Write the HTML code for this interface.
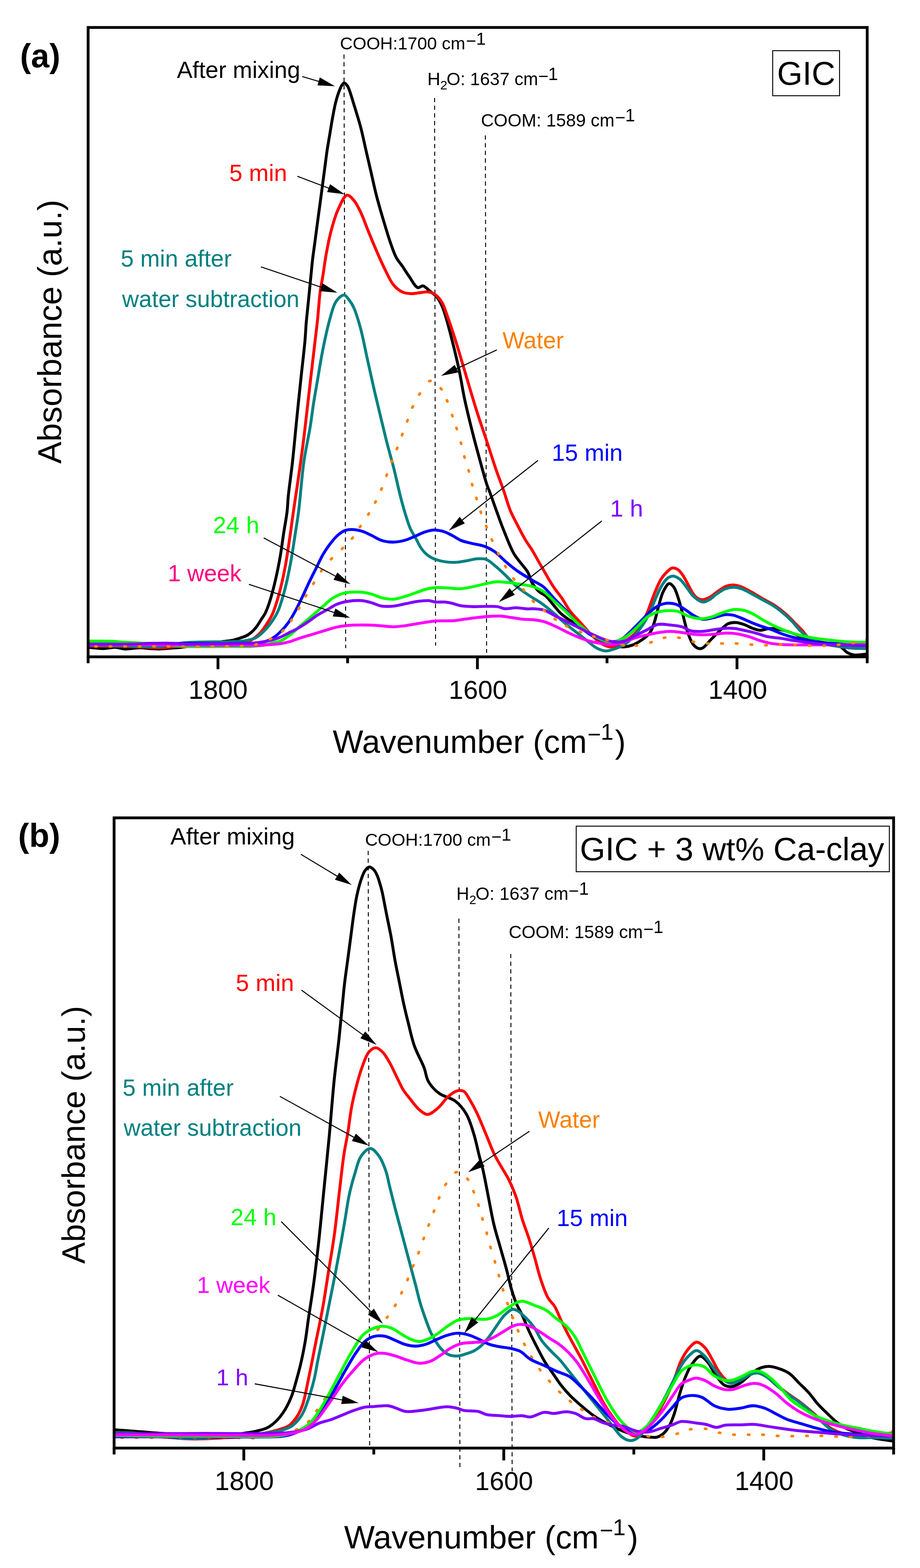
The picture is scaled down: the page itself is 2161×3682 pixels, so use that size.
<!DOCTYPE html>
<html><head><meta charset="utf-8"><title>FTIR spectra</title>
<style>html,body{margin:0;padding:0;background:#fff;}svg{display:block;}</style>
</head><body>
<svg width="2161" height="3682" viewBox="0 0 2161 3682" font-family="Liberation Sans, Arial, Helvetica, sans-serif">
<rect width="2161" height="3682" fill="#fff"/>
<line x1="808" y1="128" x2="812" y2="1522" stroke="#000" stroke-width="2.2" stroke-dasharray="10 8"/>
<line x1="1020.8" y1="230" x2="1023.1" y2="1516" stroke="#000" stroke-width="2.2" stroke-dasharray="10 8"/>
<line x1="1140" y1="318" x2="1143" y2="1533" stroke="#000" stroke-width="2.2" stroke-dasharray="10 8"/>
<clipPath id="ca"><rect x="207" y="64.5" width="1830" height="1477.9"/></clipPath>
<g clip-path="url(#ca)" fill="none" stroke-linejoin="round" stroke-linecap="round">
<path d="M200,1520C202.3,1520 203.8,1519.9 207,1520C214.3,1520.3 231.8,1523.1 243,1523C252.9,1522.9 262.3,1519.7 271,1520C278.8,1520.3 284.7,1523.6 293,1524C303.7,1524.5 319.4,1520.9 330,1521C338,1521.1 343.9,1522.5 351,1523C358.2,1523.5 365.1,1524.1 373,1524C382.2,1523.9 393.7,1522.5 403,1521.8C411.2,1521.2 416.7,1521 426,1520C440.2,1518.4 463.3,1514.3 480,1512C494.3,1510 508,1508.6 520,1507C529.9,1505.7 539,1505 547,1503.3C553.7,1501.9 559.1,1500.1 565,1498C570.8,1496 576.5,1494.4 582,1491C588.3,1487.1 594.7,1481.1 600,1475C605.4,1468.8 609.9,1460.3 614,1454C617.4,1448.9 620.1,1445.7 623,1440C626.9,1432.2 630.5,1422 634,1411C638.5,1396.9 643.1,1378.8 647,1362C651.1,1344.5 654.8,1326 658,1308C661.2,1290 663.3,1272 666,1254C668.8,1236 672.7,1215.9 674.5,1200C675.9,1187.5 675.7,1180.1 677,1166.5C679.1,1145.3 683.8,1113.6 687,1085C690.5,1053.2 693.6,1017.7 697,984C700.4,950.2 704.1,914.7 707.5,882.6C710.6,853.5 714.4,822.6 716.4,799.6C717.8,783.3 718.2,771.3 719.3,757.8C720.4,745.1 721.8,733.3 723,721C724.2,708.7 725.5,696.4 726.7,684.1C727.9,671.8 729.2,659.5 730.4,647.2C731.6,634.9 732.7,622.6 734.1,610.3C735.5,598 737.4,585.7 739,573.4C740.6,561.1 742.3,548.8 743.9,536.5C745.5,524.2 747.2,512 748.8,499.7C750.5,487.4 752.1,475.1 753.8,462.8C755.4,450.5 757.1,438.2 758.7,425.9C760.3,413.6 762,401.3 763.6,389C765.2,376.7 766.7,364.4 768.5,352.1C770.4,339.8 772.6,327.5 774.7,315.2C776.7,302.9 778.6,290.7 780.8,278.4C783.1,266.1 785.4,252.5 788.2,241.5C790.5,232.4 793,224 795.6,216.9C797.7,211.2 799.6,205.9 802,202C803.8,199 805.9,195.1 807.9,194.8C809.5,194.5 811.5,196.5 813,198C814.8,199.7 816,201.2 817.7,204.6C821.9,212.9 828.1,235.3 833,251C838,267.1 843.1,283.3 847.5,300C852,317.2 855.6,335.2 859.6,352.8C863.7,370.4 867.7,388 871.8,405.6C875.9,423.2 879.4,440.5 884,458.3C888.8,476.9 894.5,496.5 900,515C905.3,532.9 910.9,551.9 916.4,567.8C921.1,581.2 925.2,594.3 930.6,604.4C934.9,612.4 940,617.5 944.8,624.6C950.1,632.3 955.1,640.8 961,649C967.2,657.7 974.7,673.4 981.3,675.4C985.4,676.7 989.3,670.6 993.5,671.3C998.7,672.1 1004.4,679.2 1009.7,683.5C1015.2,688 1021.4,692.1 1026,697.7C1030.9,703.5 1034.7,710.9 1038,718C1041.4,725.2 1043.1,731.2 1046,740.6C1050.8,755.9 1057.2,780.4 1062.5,801.4C1068.1,823.6 1073.9,847.7 1078.7,870.4C1083.3,892.3 1086.3,913.4 1090.9,935.3C1095.7,957.9 1101.5,981.8 1107,1004C1112.2,1025 1117.2,1043.8 1123,1065C1129.3,1088.3 1138.4,1122.4 1143.6,1138C1146.1,1145.5 1147.4,1147.6 1150,1154.4C1154.2,1165.6 1160.6,1184.1 1166,1199C1171.4,1213.9 1176.2,1228 1182.5,1243.6C1189.6,1261.4 1198.9,1285.9 1207,1300C1212.4,1309.3 1217.6,1314.5 1223,1321.7C1228.4,1328.9 1235,1335.5 1239.5,1343.3C1244,1351.2 1245.5,1361.3 1250,1369C1254.4,1376.4 1260.2,1383.7 1266,1389C1271.1,1393.7 1277.3,1395.4 1282.5,1400C1288.3,1405.2 1293.1,1412.5 1298.7,1419C1304.7,1426 1310.8,1434.3 1317.6,1440.7C1324.2,1446.9 1331.5,1451.7 1339,1457C1346.8,1462.5 1355.7,1467.9 1363.6,1473C1371,1477.8 1377.8,1482.2 1385,1486.7C1392.3,1491.2 1399.6,1495.9 1407,1500C1414.1,1504 1421.2,1508 1428.5,1511C1435.5,1513.9 1443.3,1516.5 1450,1517.8C1455.7,1518.9 1460.5,1519.4 1466,1519C1472.1,1518.6 1478.6,1517.4 1485,1515C1492.3,1512.3 1500.2,1507.7 1507,1503C1513.8,1498.3 1521.1,1493.4 1526,1486.7C1531.1,1479.8 1533.4,1471.4 1536.7,1462C1540.8,1450.4 1543.8,1434.5 1547.5,1421.8C1550.9,1410.3 1553.3,1398.1 1558,1389C1561.8,1381.6 1567.1,1371.1 1571.8,1370.4C1575.4,1369.9 1579.5,1374.4 1582.6,1378.5C1587.2,1384.5 1590.2,1395.6 1593.5,1405.5C1597.4,1417 1600.5,1430.5 1604,1443.4C1607.6,1456.7 1610.5,1471.7 1615,1484C1618.9,1494.8 1623,1507 1628.6,1513.7C1632.5,1518.4 1637.9,1522.1 1642,1523C1644.9,1523.7 1647,1523.3 1650,1521.8C1655.9,1518.8 1664.6,1507.2 1671.6,1500.2C1678.1,1493.7 1684.2,1487.3 1690.6,1481.3C1696.8,1475.5 1702.7,1468.2 1709.5,1465C1715.4,1462.2 1722.1,1461.6 1728.4,1461.8C1734.7,1462 1741,1464.2 1747.4,1466.4C1754.5,1468.8 1762.2,1473.6 1769,1475.9C1774.6,1477.9 1779.2,1479.8 1785,1480C1791.7,1480.2 1799.3,1476.3 1807,1476C1815.5,1475.6 1825.1,1476.9 1834,1478.6C1843.1,1480.4 1852.1,1483.6 1861,1486.7C1870.1,1489.9 1878.9,1494.3 1888,1497.5C1896.9,1500.6 1905.5,1503.4 1915,1505.6C1925.3,1508 1937.2,1508.6 1947.5,1511C1957,1513.2 1967,1515 1974.5,1519C1981,1522.5 1985,1529.5 1990.8,1532.7C1995.9,1535.6 2001.1,1537.2 2007,1538C2013.6,1538.9 2021.9,1537.2 2028.6,1536.7C2034.4,1536.2 2039.5,1535.6 2045,1535" stroke="#000000" stroke-width="6.8"/>
<path d="M200,1517C202.3,1517 203.3,1517 207,1517C220.3,1517.1 270.2,1517.3 300,1518C327.7,1518.7 361.4,1521.5 380,1521C390,1520.8 394,1519.8 403,1519C415.9,1517.9 432.8,1516.3 450,1515C471,1513.4 497.4,1511.4 520,1510C541.3,1508.7 566.2,1512.1 582,1506.8C593.3,1503 601.1,1496 608.5,1489C615.6,1482.3 620.8,1473.8 626,1466C631,1458.6 635.1,1452.6 639.3,1443.4C645.2,1430.5 650.7,1411.9 655.5,1394.7C660.7,1376 665.1,1355.7 669.1,1335.2C673.3,1313.5 676.5,1290.1 679.9,1267.6C683.3,1245.1 686.3,1221.2 689.4,1200C692.1,1181 694.4,1167 697.4,1146.2C701.5,1117.7 707.1,1080.2 711.6,1044.8C716.6,1006.1 721.1,963.7 725.8,923.1C730.5,882.5 736.3,833.4 740,801.4C742.4,780.6 744.1,768.1 746,750C748.1,729.7 749.6,703.9 752,685.5C753.8,671.6 756.1,662.3 758.2,649C760.8,633 763,614.1 766.3,596.2C769.7,577.6 773.6,557.5 778.5,539.4C783.1,522.4 788,505 794.7,490.8C800.5,478.5 807.9,459.6 815,458.3C820.2,457.3 826.3,464.9 831.2,470.5C837.4,477.6 842.4,488.4 847.5,498.9C853.4,511 857.9,525.3 863.7,539.4C870,554.9 877.1,572.3 884,588.1C890.6,603.4 897.3,618.8 904.3,632.8C910.8,645.7 916.7,660.1 924.5,669.3C930.6,676.6 937.6,682.2 944.8,685.5C951.2,688.5 958.2,689.2 965,689.5C971.8,689.8 978.6,688.2 985.4,687.5C992.2,686.8 999.4,684.7 1005.7,685.5C1011.5,686.3 1016.9,688.2 1021.9,691.6C1027.8,695.7 1033.5,702.5 1038,709.8C1043.3,718.4 1045.9,728.5 1050.3,740.6C1056.4,757.4 1063.7,779.6 1070.6,801.4C1078.5,826.5 1086.8,855.5 1094.9,882.6C1103,909.6 1111,937.4 1119.3,963.7C1127.2,988.7 1135.7,1012.7 1143.6,1036.7C1151.3,1060 1159.1,1085.3 1166.2,1105.7C1171.9,1122.2 1177.2,1135.1 1182.5,1150.3C1188,1166.1 1193,1185.2 1198.7,1199C1203.1,1209.8 1207.2,1216.8 1212.4,1227C1218.7,1239.3 1227.1,1255.9 1234,1267.6C1239.5,1276.9 1244.4,1282.9 1250,1292C1256.8,1303.1 1263.9,1316.6 1271.6,1329.8C1280.1,1344.4 1289.9,1362.3 1298.7,1375.8C1306,1387 1313.5,1395.5 1320.3,1405.5C1327,1415.3 1332.1,1425.9 1339.2,1435.3C1346.5,1444.8 1355.3,1453.1 1363.6,1462.3C1372.4,1472 1381.8,1483.5 1390.6,1492.1C1398,1499.4 1404.6,1506.4 1412.3,1511C1419.2,1515.1 1426.7,1519.1 1433.9,1519.1C1441.1,1519.1 1448.2,1514.4 1455.5,1511C1463.5,1507.3 1472.4,1503.2 1479.9,1497.5C1487.8,1491.6 1495.1,1484.7 1501.5,1475.9C1509,1465.5 1514.7,1451.2 1520.5,1438C1526.5,1424.2 1531,1408.3 1536.7,1394.7C1541.9,1382.3 1547.1,1368.8 1552.9,1359.6C1557.2,1352.8 1561.8,1347.8 1566.4,1343.3C1570.4,1339.5 1574.3,1334.9 1578.6,1333.9C1582.5,1333 1587.1,1334.6 1590.8,1336.6C1594.9,1338.8 1598.1,1342.9 1601.6,1347.4C1606.2,1353.4 1610.6,1362.6 1615.1,1370.4C1619.6,1378.4 1623.9,1388.5 1628.6,1394.7C1632.1,1399.3 1635.6,1403.3 1639.5,1405.5C1642.8,1407.4 1646.1,1408.3 1650,1408.2C1654.8,1408 1660.8,1405.5 1666.2,1402.8C1672.5,1399.6 1678.8,1393.6 1685.2,1389.3C1691.5,1385.1 1697.8,1379.7 1704.1,1377.1C1709.5,1374.9 1714.7,1373.7 1720.3,1373.6C1726.3,1373.5 1732.7,1374.9 1739.2,1377.1C1747,1379.7 1755.3,1384.8 1763.6,1389.3C1772.5,1394.2 1781.5,1400.3 1790.6,1405.5C1799.6,1410.7 1808.9,1414.7 1817.7,1420.4C1826.9,1426.4 1836.4,1433.5 1844.7,1440.7C1852.6,1447.5 1859.4,1455.3 1866.4,1462.3C1872.9,1468.8 1880,1475.4 1885.3,1481.3C1889.5,1486.1 1891.5,1490.9 1896,1494.8C1901.1,1499.2 1908.3,1502.7 1915,1505.6C1921.8,1508.6 1928.7,1510.5 1936.7,1512.4C1946.3,1514.7 1958.2,1516.2 1969,1517.8C1979.8,1519.4 1989.9,1520.9 2001.6,1521.8C2015,1522.8 2030.5,1522.7 2045,1523.2" stroke="#ff0000" stroke-width="6.8"/>
<path d="M200,1515C202.3,1515 203.3,1515 207,1515C220.3,1515.1 270.9,1516.5 300,1517C325.8,1517.5 349.9,1519.5 373,1518C394,1516.6 415.6,1511.1 433,1509.4C446.2,1508.1 454.3,1508.1 468,1507.7C487.3,1507.1 518.7,1507.4 538,1506.8C551.7,1506.4 562.2,1506.7 573,1505C582.7,1503.5 592.3,1501.7 600,1498C606.7,1494.7 611.6,1490 617,1485C622.9,1479.5 628.5,1473.4 634,1466C640.5,1457.2 647.4,1447.2 652.8,1435.3C659.5,1420.7 664.3,1402 669.1,1383.9C674.3,1364.3 678.6,1342.9 682.6,1321.7C686.7,1299.7 690.1,1275.4 693.4,1254.1C696.3,1235.1 698.8,1221.4 701.5,1200C705.5,1168.9 708.6,1120.7 713.6,1085.4C718,1054.8 725,1024.9 729,1000C732.1,980.6 733.6,965.9 736.3,948.3C739.2,929.8 742.8,910.4 746,891.5C749.2,872.6 752.5,852 755.7,834.7C758.4,820 760.9,807.7 763.9,794.2C766.9,780.6 769.8,767.1 773.6,753.6C777.4,740 781.4,722.9 786.6,713C790,706.4 793.8,701.5 798,698C801.3,695.3 805.2,692.2 808.5,692.7C812.2,693.3 815.7,698.9 819,703C823,708 826.7,713.3 830.4,721.1C836.1,733.1 841.6,751.8 846.6,769.8C852.6,791.5 857.4,818.5 862.8,842.8C868.2,867.2 873.6,892 879.1,915.9C884.4,939 890,962.2 895.3,984C900.2,1004.1 904.6,1022.9 909.5,1042C914.3,1060.8 919.5,1078 924.5,1097.6C930,1119.3 936,1147.7 940.8,1166.5C944.2,1179.7 946.5,1188.3 950,1200C953.9,1212.9 958.5,1229 963.6,1240.6C967.7,1250 972.6,1256.8 977.1,1264.9C981.6,1273 985.3,1282.2 990.6,1289.2C995.4,1295.6 1001.1,1301.3 1006.9,1305.5C1012,1309.2 1017.2,1311.4 1023.1,1313.6C1029.7,1316 1037,1317.9 1044.7,1319C1053.2,1320.3 1062.8,1320.8 1071.8,1320.4C1080.8,1320 1090.3,1317.7 1098.8,1316.3C1106.4,1315 1113.2,1312.6 1120.4,1312.2C1127.6,1311.8 1135.4,1311.2 1142.1,1313.6C1149,1316.1 1154.3,1321.7 1161,1327.1C1169.4,1333.8 1179.2,1343 1188.1,1351.5C1197.2,1360.2 1205.1,1370.1 1215.1,1378.5C1225.6,1387.4 1239.7,1396.2 1250,1403C1258,1408.3 1264.2,1411.1 1271.6,1416.4C1280.3,1422.5 1289.8,1430.4 1298.7,1438C1307.8,1445.7 1316.6,1454.6 1325.7,1462.3C1334.6,1469.9 1344,1477 1352.8,1484C1361.1,1490.5 1369,1496.6 1377.1,1502.9C1385.2,1509.2 1393.2,1517.5 1401.5,1521.8C1408.6,1525.5 1415.9,1528.4 1423.1,1528.6C1430.3,1528.8 1437.6,1525.6 1444.7,1523.2C1452,1520.7 1459.5,1518.1 1466.4,1513.7C1474,1508.9 1481.1,1502 1488,1494.8C1495.6,1486.9 1503,1477.6 1509.6,1467.7C1516.7,1457 1523.1,1444.2 1528.6,1432.6C1533.8,1421.7 1537.4,1410.4 1542.1,1400.1C1546.4,1390.6 1550.6,1380.7 1555.6,1373.1C1559.8,1366.7 1564.2,1360.3 1569.1,1356.9C1572.9,1354.3 1577.1,1352.6 1581.3,1352.8C1586.1,1353 1591.5,1356.1 1596.2,1359.6C1602,1364 1607.1,1371.9 1612.4,1378.5C1617.9,1385.4 1622.2,1394.2 1628.6,1400.1C1634.8,1405.8 1643.2,1412.9 1650,1413.7C1655.6,1414.4 1660.8,1411.1 1666.2,1408.2C1672.6,1404.8 1678.7,1397.7 1685.2,1393.4C1691.4,1389.3 1697.6,1385 1704.1,1382.6C1710.2,1380.3 1716.7,1379 1723,1379C1729.3,1379 1735.4,1380.4 1742,1382.6C1749.8,1385.2 1758,1390.4 1766.3,1394.7C1775.1,1399.3 1784.5,1404.8 1793.3,1409.6C1801.6,1414.2 1810,1418.1 1817.7,1423.1C1825.3,1428 1832.2,1433.4 1839.3,1439.3C1846.7,1445.5 1854.2,1452.5 1861,1459.6C1867.7,1466.5 1873.6,1475.1 1879.9,1481.3C1885.3,1486.6 1890.3,1490.8 1896.1,1494.8C1902,1498.9 1908.3,1502.7 1915,1505.6C1921.8,1508.6 1928.7,1510.5 1936.7,1512.4C1946.4,1514.7 1958.3,1516.2 1969.1,1517.8C1979.9,1519.4 1990,1520.9 2001.6,1521.8C2015,1522.8 2030.5,1522.7 2045,1523.2" stroke="#008080" stroke-width="6.8"/>
<path d="M200,1511C202.3,1511 203,1511 207,1511C230.5,1511 384.8,1511 450,1511C493.8,1511 529.2,1511.7 560,1511C582.3,1510.5 602.8,1511.8 617.7,1508.3C627.8,1505.9 634.7,1502.1 642,1497.5C649.1,1493 655.1,1487.2 661,1481.3C666.9,1475.4 672.1,1469.4 677.2,1462.3C683,1454.3 688.2,1444.8 693.4,1435.3C699,1425.1 704.3,1413.9 709.6,1402.8C715.1,1391.4 720.4,1379.1 725.9,1367.7C731.2,1356.6 736.7,1346 742.1,1335.2C747.5,1324.4 752.6,1312.7 758.3,1302.8C763.4,1293.9 768.6,1286.1 774.5,1278.4C780.3,1270.8 787,1262.5 793.5,1256.8C798.8,1252.2 804.1,1248.2 809.7,1246C814.9,1243.9 820,1243.3 825.9,1243.3C833.1,1243.3 842.3,1245 850,1247.3C857.5,1249.5 864.2,1253.3 871.6,1256.8C879.5,1260.5 887.4,1266.3 896,1269C904.6,1271.7 914,1273 923,1273C932,1273 941.4,1271.3 950.1,1269C958.6,1266.8 966.6,1262.8 974.4,1259.5C981.8,1256.4 988.7,1252.5 996,1250C1003.1,1247.6 1010.4,1245 1017.7,1244.6C1024.9,1244.2 1032.2,1245.4 1039.3,1247.3C1046.7,1249.3 1053.9,1253.2 1061,1256.8C1068.3,1260.4 1075,1265.9 1082.6,1269C1090.3,1272.2 1098.4,1273.5 1106.9,1275.7C1116.3,1278.1 1127.5,1279.2 1136.7,1282.5C1145.4,1285.6 1153,1289.3 1161,1294.7C1170.2,1301 1179,1311.3 1188.1,1319C1197,1326.5 1205.3,1333.7 1215.1,1340.6C1225.8,1348.2 1239.1,1355.6 1250,1362.3C1259.6,1368.1 1268.5,1371.5 1277,1378.5C1286.6,1386.4 1295,1398.6 1304.1,1408.2C1313,1417.5 1322.3,1425.7 1331.1,1435.3C1340.4,1445.4 1348.7,1458.4 1358.2,1467.7C1366.8,1476.1 1375.9,1483.4 1385.2,1489.4C1393.9,1495 1403,1500 1412.3,1502.9C1421.1,1505.7 1430.9,1507.6 1439.3,1507C1447,1506.4 1454.2,1504 1461,1500.2C1468.7,1495.9 1475.3,1488.1 1482.6,1481.3C1490.6,1473.8 1499,1464.8 1506.9,1456.9C1514.3,1449.5 1521.4,1441.4 1528.6,1435.3C1534.9,1430 1540.7,1425 1547.5,1421.8C1554.2,1418.7 1562.1,1416.8 1569.1,1416.4C1575.6,1416.1 1582,1417 1588.1,1419.1C1594.6,1421.3 1600.6,1425.9 1607,1429.9C1614.1,1434.3 1621.2,1440.7 1628.6,1444.8C1635.6,1448.7 1642.3,1453.2 1650,1454.2C1658.3,1455.3 1668,1452 1677,1450.2C1686.1,1448.4 1695.8,1444.1 1704.1,1443.4C1710.9,1442.8 1716.6,1443.4 1723,1444.8C1730.1,1446.4 1737.5,1450 1744.7,1452.9C1751.9,1455.8 1759.1,1459.4 1766.3,1462.3C1773.5,1465.2 1780.5,1467.9 1787.9,1470.5C1795.8,1473.3 1804,1475.6 1812.3,1478.6C1821.1,1481.8 1830.2,1486.2 1839.3,1489.4C1848.3,1492.5 1857.3,1495.2 1866.4,1497.5C1875.4,1499.7 1884.4,1501.1 1893.4,1502.9C1902.4,1504.7 1910.5,1507 1920.5,1508.3C1932.6,1509.9 1945.1,1510.2 1961,1511C1983.9,1512.1 2017,1512.8 2045,1513.7" stroke="#0000ff" stroke-width="6.8"/>
<path d="M200,1505.5C202.3,1505.5 203.5,1505.5 207,1505.5C217.2,1505.5 251.5,1505.3 267,1506C276.8,1506.4 280.9,1507.3 291,1508C308.4,1509.2 338.3,1510.3 362,1512C385.7,1513.7 407,1516.9 433,1518C464.6,1519.3 508.9,1518 538,1518C558.7,1518 575.2,1519 591,1518C603.8,1517.2 616.8,1515.6 625.8,1513.7C631.6,1512.5 634.9,1510.7 640,1509.4C645.7,1508 652.1,1508.1 658.2,1505.6C665.4,1502.7 672.9,1497.3 679.9,1492.1C687.3,1486.6 694.5,1479.3 701.5,1473.2C708,1467.5 714,1462.6 720.5,1456.9C727.5,1450.8 735.1,1444 742.1,1438C748.6,1432.4 754.7,1427.2 761,1421.8C767.3,1416.4 773.2,1410 780,1405.5C786.7,1401 794.2,1397.2 801.6,1394.7C808.6,1392.3 815.6,1391.4 823.2,1390.7C831.6,1389.9 841.6,1389.9 850,1390.7C857.6,1391.4 864.1,1392.7 871.6,1394.7C880.2,1397 889.6,1402.2 898.7,1404.2C907.6,1406.2 916.7,1407.6 925.7,1406.9C934.8,1406.2 943.8,1402.8 952.8,1400.1C961.9,1397.4 971.3,1393.6 979.8,1390.7C987.4,1388.1 994.2,1385.2 1001.5,1383.4C1008.6,1381.6 1015.3,1380.3 1023.1,1379.8C1032.2,1379.2 1043.1,1380.2 1052.8,1380.7C1062,1381.2 1070.9,1383 1079.9,1382.6C1088.9,1382.2 1097.7,1380.2 1106.9,1378.5C1116.6,1376.7 1127,1373.8 1136.7,1371.7C1145.9,1369.7 1154.7,1367 1163.7,1366.3C1172.7,1365.6 1181.6,1366.8 1190.8,1367.7C1200.5,1368.6 1210.6,1370.1 1220.5,1371.7C1230.4,1373.3 1240.6,1374.2 1250,1377.1C1259.4,1380 1268.4,1383.7 1277,1389.3C1286.5,1395.5 1295.1,1405.6 1304.1,1413.7C1313.1,1421.8 1322.2,1429.6 1331.1,1438C1340.2,1446.7 1348.9,1456.7 1358.2,1465C1367,1472.9 1375.9,1480.5 1385.2,1486.7C1394,1492.6 1403,1498 1412.3,1501.6C1421.1,1505 1430.4,1508.9 1439.3,1508.3C1448.4,1507.7 1457.7,1502.5 1466.4,1497.5C1475.8,1492 1484.6,1483.8 1493.4,1475.9C1502.7,1467.6 1511.4,1455.3 1520.5,1448.8C1527.7,1443.6 1534.3,1440.5 1542.1,1438C1550.4,1435.4 1560.6,1434.3 1569.1,1433.9C1576.7,1433.6 1583.5,1433.5 1590.8,1435.3C1598.8,1437.3 1607.4,1443.3 1615.1,1446.1C1621.7,1448.5 1627.9,1450.4 1634,1451.5C1639.5,1452.5 1644.3,1453.2 1650,1452.9C1656.7,1452.6 1664.1,1451 1671.6,1448.8C1680.2,1446.3 1689.6,1441 1698.7,1438C1707.6,1435.1 1716.9,1431.8 1725.7,1431.2C1734,1430.6 1742.4,1431.8 1750.1,1433.9C1757.7,1435.9 1764.2,1439.5 1771.7,1443.4C1780.3,1447.9 1789.6,1454.6 1798.7,1459.6C1807.6,1464.5 1816.7,1469.1 1825.8,1473.2C1834.7,1477.2 1843.7,1480.8 1852.8,1484C1861.8,1487.1 1870.8,1489.8 1879.9,1492.1C1888.9,1494.3 1897,1495.8 1906.9,1497.5C1919,1499.5 1934,1501.3 1947.5,1502.9C1961,1504.5 1973.4,1506.1 1988.1,1507C2005.5,1508.1 2026,1507.9 2045,1508.3" stroke="#00ff00" stroke-width="6.8"/>
<path d="M200,1514C202.3,1514 203.3,1514 207,1514C220.3,1514 270.2,1513.9 300,1514C327.7,1514.1 350.5,1514.3 380,1514.5C416.6,1514.8 470.5,1515.3 503,1515.5C524.3,1515.6 538.2,1515.6 555.8,1515.6C573.4,1515.6 593.2,1516.2 608.5,1515.6C620.4,1515.1 631.8,1513.5 640,1513C645.2,1512.7 647.8,1513 652.8,1512.4C660.2,1511.5 671,1509.4 679.9,1507C689,1504.5 697.9,1500.4 706.9,1497.5C715.9,1494.6 725,1492.1 734,1489.4C743,1486.7 752,1484 761,1481.3C770,1478.6 779.3,1475.3 788.1,1473.2C796.4,1471.3 803.4,1470 812.4,1469.1C823.5,1468 837.2,1467.7 850,1467.7C863.3,1467.7 877.8,1468.3 890.6,1469.1C902,1469.8 912.4,1471.8 923,1471.8C933.1,1471.8 942.7,1470.4 952.8,1469.1C963.4,1467.7 974,1465.4 985.2,1463.7C997.3,1461.8 1010,1459.3 1023.1,1458.3C1037,1457.2 1053.7,1458.5 1066.4,1457.5C1076.5,1456.7 1084.4,1454.9 1093.4,1453.7C1102.4,1452.5 1111.4,1451.2 1120.4,1450.2C1129.4,1449.2 1138.5,1448.1 1147.5,1447.5C1156.5,1446.9 1165.5,1446.3 1174.5,1446.7C1183.5,1447.1 1192.6,1448.9 1201.6,1450.2C1210.6,1451.4 1220.1,1453.4 1228.6,1454.2C1236.1,1454.9 1242.5,1454.2 1250,1455C1258.5,1455.9 1268.1,1457.1 1277,1459.6C1286.2,1462.2 1295.2,1466.5 1304.1,1470.5C1313.2,1474.6 1322,1479.7 1331.1,1484C1340.1,1488.2 1349.1,1492.5 1358.2,1496.1C1367.1,1499.7 1376.1,1503.1 1385.2,1505.6C1394.1,1508 1403.2,1509.6 1412.3,1511C1421.3,1512.3 1430.3,1514.3 1439.3,1513.7C1448.4,1513.1 1457.4,1509.7 1466.4,1507C1475.5,1504.3 1484.3,1500.2 1493.4,1497.5C1502.4,1494.8 1511.5,1492.7 1520.5,1490.7C1529.5,1488.7 1538.5,1486.7 1547.5,1485.3C1556.5,1484 1565.5,1482.6 1574.5,1482.6C1583.5,1482.6 1592.6,1484.2 1601.6,1485.3C1610.6,1486.4 1620.1,1488.5 1628.6,1489.4C1636.1,1490.2 1642.5,1490.7 1650,1490.7C1658.5,1490.8 1668,1490.1 1677,1489.4C1686,1488.7 1695.3,1486.9 1704.1,1486.7C1712.4,1486.5 1719.9,1486.8 1728.4,1488C1737.9,1489.3 1748.6,1492 1758.2,1494.8C1767.5,1497.5 1776.1,1501.6 1785.2,1504.3C1794.2,1507 1803.2,1509.4 1812.3,1511C1821.3,1512.5 1828.7,1513.1 1839.3,1513.7C1854.2,1514.5 1870.8,1514.2 1893.4,1514.3C1931.2,1514.4 1994.5,1513.9 2045,1513.7" stroke="#ff00ff" stroke-width="6.8"/>
<path d="M200,1512.5C202.3,1512.5 203.3,1512.5 207,1512.5C220.3,1512.5 268.8,1512.9 300,1512.5C331.5,1512.1 370.5,1509.9 395,1510.3C410.4,1510.6 419.1,1512.1 432.7,1512.4C448.8,1512.8 467.9,1512.3 485.5,1512.1C503.1,1511.9 520.6,1511.5 538.2,1511.2C555.8,1510.9 578.1,1511 591,1510.3C598.4,1509.9 602.7,1509.4 608.5,1508.6C614.3,1507.8 619.3,1507 625.8,1505.6C634.4,1503.7 646.5,1500.9 655.5,1497.5C663.5,1494.5 670,1490.3 677.2,1486.7C684.4,1483.1 691.7,1479.9 698.8,1475.9C706.1,1471.8 712.9,1467.3 720.5,1462.3C729.1,1456.6 738.6,1449 747.5,1443.4C755.7,1438.3 764.2,1434.2 771.8,1429.9C778.5,1426.1 783.9,1422 790.8,1419.1C798.2,1416 806.2,1413.8 815.1,1412.3C825.6,1410.6 839.8,1409.5 850,1410.3C858.1,1410.9 864.2,1413 871.6,1415C879.5,1417.2 887.3,1421.7 896,1423.1C905.3,1424.6 916.1,1424 925.7,1423.1C935,1422.2 943.8,1419.5 952.8,1417.7C961.8,1415.9 970.8,1413.5 979.8,1412.3C988.8,1411.1 999.1,1409.9 1006.9,1410.4C1013,1410.8 1017.3,1413.1 1023.1,1413.7C1029.8,1414.4 1038,1413.2 1044.7,1413.7C1050.5,1414.2 1055.2,1415.1 1061,1416.4C1067.7,1417.9 1074.8,1421 1082.6,1422.3C1091.6,1423.9 1102.4,1424.2 1112.3,1424.5C1122.2,1424.8 1132.4,1423.9 1142.1,1423.9C1151.3,1423.9 1161.3,1423.3 1169.1,1424.5C1175.3,1425.5 1179.2,1428.7 1185.4,1429.3C1193.2,1430.1 1203.4,1427.1 1212.4,1427.2C1221.4,1427.3 1232.6,1429.8 1239.5,1429.9C1243.8,1430 1245.7,1429.2 1250,1429.3C1256.9,1429.5 1268.2,1430 1277,1432.6C1286.3,1435.4 1295.1,1441.6 1304.1,1446.1C1313.1,1450.6 1322.1,1455.1 1331.1,1459.6C1340.1,1464.1 1349.2,1468.7 1358.2,1473.2C1367.2,1477.7 1376.1,1482.4 1385.2,1486.7C1394.2,1491 1403.2,1495.5 1412.3,1498.9C1421.2,1502.2 1430.2,1505.9 1439.3,1507C1448.2,1508.1 1457.6,1507.9 1466.4,1505.6C1475.7,1503.2 1484.4,1496.6 1493.4,1492.1C1502.4,1487.6 1511.7,1483 1520.5,1478.6C1528.8,1474.4 1536,1468.3 1544.8,1466.4C1554,1464.4 1564.9,1466.8 1574.5,1467.7C1583.8,1468.6 1593.2,1469.4 1601.6,1471.8C1609.4,1474.1 1615.4,1479.5 1623.2,1481.3C1631.5,1483.3 1641.1,1483 1650,1482.6C1659,1482.2 1668,1479.8 1677,1478.6C1686,1477.4 1695.6,1475.7 1704.1,1475.3C1711.7,1474.9 1718.1,1475 1725.7,1475.9C1734.3,1476.9 1743.8,1479.3 1752.8,1481.3C1761.8,1483.3 1771.3,1485.6 1779.8,1488C1787.5,1490.1 1793.5,1493 1801.5,1494.8C1811.1,1496.9 1823.1,1497.3 1833.9,1498.9C1844.7,1500.5 1855,1502.6 1866.4,1504.3C1879.1,1506.2 1893.4,1508.1 1906.9,1509.7C1920.4,1511.3 1931,1512.7 1947.5,1513.7C1973,1515.3 2012.5,1515.5 2045,1516.4" stroke="#8000ff" stroke-width="6.8"/>
<path d="M223.9,1518L227.1,1518M257.9,1518L261.1,1518M292.4,1518L295.6,1518M326.3,1518L329.5,1518M360.3,1518L363.5,1518M394.2,1518L397.4,1518M428.5,1518.3L431.7,1518.3M462.8,1518.5L466,1518.5M497.3,1518.3L500.5,1518.3M531.7,1517.8L534.9,1517.8M566,1517.1L569.2,1516.9M599.9,1514.1L603.1,1513.3M633.9,1500.9L636.7,1499.5M663.3,1482.4L665.7,1480.2M683.6,1457.7L685.4,1455.1M701.5,1429.9L703.1,1427.1M717.8,1400.2L719.4,1397.4M735.9,1371L737.5,1368.2M754.2,1341.4L756,1338.8M777.5,1313.4L779.7,1311M803.2,1289L805.4,1286.8M826.8,1264.8L828.8,1262.4M845.3,1237.8L847.1,1235.2M864.9,1208.5L866.5,1205.7M881.2,1180.1L882.6,1177.3M895.5,1149.8L896.7,1146.8M907.7,1117.3L908.9,1114.3M919.9,1084.9L921.1,1081.9M932.1,1054.5L933.3,1051.5M944.2,1022L945.4,1019M956.4,989.5L957.6,986.5M968.5,957.1L969.9,954.1M984.5,926.5L986.3,923.9M1008.1,895.1L1011.3,894.3M1035,911.8L1037.2,914.2M1049.7,939.9L1050.9,942.9M1062,974.4L1063,977.4M1072.1,1004.8L1073.1,1007.8M1082.4,1039.3L1083.2,1042.3M1090.5,1071.7L1091.3,1074.7M1100.6,1104.2L1101.4,1107.2M1108.7,1136.6L1109.5,1139.6M1118.8,1169.1L1119.8,1172.1M1128.9,1201.5L1129.9,1204.5M1142,1235L1143.2,1238M1155,1266.7L1156.2,1269.7M1169.8,1298.7L1171.2,1301.5M1186.7,1329L1188.3,1331.8M1206,1358.3L1208,1360.9M1228.9,1384.1L1231.1,1386.5M1251.6,1411.2L1253.8,1413.4M1277.2,1432.9L1279.6,1434.9M1302.8,1453.3L1305.4,1455.1M1329.7,1469.8L1332.5,1471.2M1362.1,1483.4L1365.1,1484.6M1393.5,1494.5L1396.5,1495.5M1424.3,1502.5L1427.3,1503.3M1462.1,1514.8L1465.3,1515.4M1493.2,1516L1496.4,1515.8M1527.6,1508.7L1530.6,1507.9M1559.4,1497.8L1562.6,1497.2M1593.2,1497.3L1596.4,1497.7M1627,1506.7L1630.2,1507.3M1660.6,1510.9L1663.8,1511.1M1694.4,1511L1697.6,1511M1728.7,1510.9L1731.9,1511.1M1763.3,1513.6L1766.5,1513.8M1797.7,1515.1L1800.9,1515.1M1831.8,1513.7L1835,1513.7M1866.1,1513.6L1869.3,1513.8M1899.9,1516.3L1903.1,1516.5M1934.5,1516.5L1937.7,1516.3M1968.4,1514.2L1971.6,1513.8M2002.7,1510L2005.9,1509.4M2035.4,1502.4L2038.6,1501.6" stroke="#ff8000" stroke-width="6.2" stroke-linecap="round" fill="none"/>
</g>
<rect x="207" y="64.5" width="1830" height="1477.9" fill="none" stroke="#000" stroke-width="6.6"/>
<line x1="512" y1="1542.4" x2="512" y2="1571.4" stroke="#000" stroke-width="6.6"/>
<line x1="1121.4" y1="1542.4" x2="1121.4" y2="1571.4" stroke="#000" stroke-width="6.6"/>
<line x1="1731.1" y1="1542.4" x2="1731.1" y2="1571.4" stroke="#000" stroke-width="6.6"/>
<line x1="207" y1="1542.4" x2="207" y2="1557.4" stroke="#000" stroke-width="6.6"/>
<line x1="816.5" y1="1542.4" x2="816.5" y2="1557.4" stroke="#000" stroke-width="6.6"/>
<line x1="1425.8" y1="1542.4" x2="1425.8" y2="1557.4" stroke="#000" stroke-width="6.6"/>
<line x1="2037" y1="1542.4" x2="2037" y2="1557.4" stroke="#000" stroke-width="6.6"/>
<line x1="709.6" y1="179.6" x2="750.4" y2="191.6" stroke="#000" stroke-width="2.4"/>
<polygon points="786.8,202.4 745.7,200.5 751.2,181.7" fill="#000"/>
<line x1="698.4" y1="413.9" x2="773.7" y2="442.4" stroke="#000" stroke-width="2.4"/>
<polygon points="809.2,455.9 768.3,450.9 775.3,432.6" fill="#000"/>
<line x1="612.9" y1="626.6" x2="756.5" y2="675.1" stroke="#000" stroke-width="2.4"/>
<polygon points="792.5,687.3 751.5,683.8 757.7,665.2" fill="#000"/>
<line x1="1167" y1="821.7" x2="1070.6" y2="866.6" stroke="#000" stroke-width="2.4"/>
<polygon points="1036.1,882.6 1068.2,856.8 1076.5,874.6" fill="#000"/>
<line x1="1263.6" y1="1081.3" x2="1084.2" y2="1222.5" stroke="#000" stroke-width="2.4"/>
<polygon points="1054.3,1246 1079.7,1213.6 1091.8,1229" fill="#000"/>
<line x1="1413.7" y1="1223.3" x2="1201.7" y2="1390.2" stroke="#000" stroke-width="2.4"/>
<polygon points="1171.8,1413.7 1197.2,1381.3 1209.3,1396.7" fill="#000"/>
<line x1="619.5" y1="1263.1" x2="789.7" y2="1353.8" stroke="#000" stroke-width="2.4"/>
<polygon points="823.2,1371.7 783.3,1361.5 792.5,1344.2" fill="#000"/>
<line x1="584.6" y1="1372.1" x2="786.6" y2="1438.8" stroke="#000" stroke-width="2.4"/>
<polygon points="822.7,1450.7 781.6,1447.5 787.8,1428.9" fill="#000"/>
<text x="47.1" y="158.4" font-size="77.4" font-weight="bold" fill="#000">(a)</text>
<text x="798.6" y="116.2" font-size="41.4" fill="#000">COOH:1700 cm</text>
<text x="1094.5" y="109.5" font-size="41.4">−</text>
<text x="1118.3" y="104.7" font-size="41.4" fill="#000">1</text>
<text x="1003.8" y="199.9" font-size="42.4" fill="#000">H</text>
<text x="1034.1" y="210.4" font-size="30.1" fill="#000">2</text>
<text x="1048.9" y="199.9" font-size="41.6" fill="#000">O: 1637 cm</text>
<text x="1264.2" y="193.1" font-size="41.6">−</text>
<text x="1287.5" y="187.7" font-size="41.6" fill="#000">1</text>
<text x="1129.7" y="296.9" font-size="41.8" fill="#000">COOM: 1589 cm</text>
<text x="1444.7" y="290.3" font-size="41.8">−</text>
<text x="1468.4" y="285.4" font-size="41.8" fill="#000">1</text>
<text x="415.5" y="183" font-size="54.9" fill="#000">After mixing</text>
<rect x="1815" y="119" width="157" height="105.8" fill="none" stroke="#000" stroke-width="2.2"/>
<text x="1825.2" y="198.5" font-size="77" fill="#000">GIC</text>
<text x="538.5" y="425.1" font-size="55.6" fill="#ff0000">5 min</text>
<text x="283.4" y="625.9" font-size="55.2" fill="#008080">5 min after</text>
<text x="286.8" y="720.7" font-size="54.7" fill="#008080">water subtraction</text>
<text x="1180.2" y="817.6" font-size="54.8" fill="#ff8000">Water</text>
<text x="1295.9" y="1082.1" font-size="55.6" fill="#0000ff">15 min</text>
<text x="1432.9" y="1213.2" font-size="55.9" fill="#8000ff">1 h</text>
<text x="500.2" y="1252.1" font-size="55.9" fill="#00ff00">24 h</text>
<text x="394.2" y="1364.7" font-size="54.6" fill="#ff0080">1 week</text>
<text x="442.7" y="1641" font-size="62.5" fill="#000">1800</text>
<text x="1054.1" y="1641" font-size="61.7" fill="#000">1600</text>
<text x="1663.8" y="1641" font-size="62.1" fill="#000">1400</text>
<text x="781.6" y="1767.8" font-size="76" fill="#000">Wavenumber (cm</text>
<text x="1380.1" y="1743.3" font-size="54">−</text>
<text x="1411" y="1736.7" font-size="54" fill="#000">1</text>
<text x="1444.6" y="1767.8" font-size="76" fill="#000">)</text>
<text transform="rotate(-90)" x="-1089" y="143.6" font-size="78">Absorbance (a.u.)</text>
<line x1="864.8" y1="1998" x2="868.3" y2="3395" stroke="#000" stroke-width="2.2" stroke-dasharray="10 8"/>
<line x1="1077.9" y1="2157" x2="1080.3" y2="3446" stroke="#000" stroke-width="2.2" stroke-dasharray="10 8"/>
<line x1="1199.7" y1="2240" x2="1203" y2="3455" stroke="#000" stroke-width="2.2" stroke-dasharray="10 8"/>
<clipPath id="cb"><rect x="268" y="1920.5" width="1831" height="1479.9"/></clipPath>
<g clip-path="url(#cb)" fill="none" stroke-linejoin="round" stroke-linecap="round">
<path d="M260,3357.3C262.7,3357.3 264.1,3357.2 268,3357.3C278.9,3357.7 310.3,3360.5 330,3362C348,3363.4 364.7,3365.1 381.7,3366C398.1,3366.9 412.2,3367.2 430,3367.5C451.8,3367.9 481.1,3368 503,3368C521,3368 538.5,3368.3 552,3367.5C561.5,3367 568.1,3366.1 576.2,3365C584.3,3363.9 592.3,3362.9 600.6,3361C609.4,3358.9 619.4,3356.9 627.6,3352.8C635.6,3348.7 642.6,3343.1 649.2,3336.6C656.2,3329.7 662.5,3321.3 668.2,3312.3C674.4,3302.5 679.9,3291 684.4,3279.8C688.9,3268.5 691.7,3256.9 695.2,3244.7C698.9,3231.7 702.6,3218.7 706,3204.1C709.9,3187.4 713.8,3167.9 716.9,3150C719.9,3132.5 721.5,3117 724.3,3097.7C727.8,3073.6 732.6,3045.1 736.5,3016.5C740.8,2984.6 744.8,2950.5 748.7,2915.1C753,2876.4 756.8,2834 760.9,2793.4C764.9,2752.8 769.1,2713.5 773,2671.7C777.2,2627.2 780.9,2575.7 785.2,2534C788.8,2499.2 793.2,2468 796.4,2438.2C799.2,2412.2 801.4,2387.8 803.7,2365.2C805.7,2345.6 807.1,2328.6 809.2,2310.4C811.3,2292.1 814.1,2273.9 816.5,2255.6C818.9,2237.3 821.4,2219.1 823.8,2200.8C826.2,2182.6 828.5,2163.3 831.1,2146.1C833.4,2130.6 835.3,2116.4 838.4,2102.2C841.4,2088.5 845.5,2072.8 849.4,2062.1C852.1,2054.6 854.4,2048 858,2043.5C860.8,2040 864.2,2036.2 867.6,2036C871.1,2035.8 875.5,2039.8 878.6,2043C882,2046.6 884.3,2052.1 886.5,2057C888.7,2062.1 890.1,2067.5 891.8,2073C893.6,2078.9 895,2083.5 896.9,2091.3C900.1,2104.6 904.1,2127.8 907.8,2146.1C911.4,2164.3 915.4,2182.5 918.8,2200.8C922.1,2219 924.7,2238.2 927.9,2255.6C930.8,2271.5 933.8,2285.4 937,2301.3C940.5,2318.7 944.2,2338.6 948,2356C951.5,2372 954.9,2385.8 958.9,2401.7C963.3,2419.2 967.2,2438.8 973.5,2456.5C979.7,2474 990.3,2491.9 996.1,2507.1C1000.7,2519.1 1000.7,2530 1006.5,2540C1012.6,2550.5 1022.2,2560.6 1032.5,2568.1C1043.1,2575.8 1058.7,2577.4 1069.2,2585.4C1079.6,2593.3 1088.2,2603.9 1095.2,2615.7C1103,2628.8 1107.5,2645.4 1112.5,2661.2C1117.7,2677.8 1121.6,2697.8 1125.5,2713.1C1128.6,2725.2 1131.1,2732.8 1134.1,2745.5C1138.3,2763.4 1142.8,2788.8 1147.1,2810.4C1151.4,2832.1 1155.2,2854.8 1160.1,2875.4C1164.6,2894.3 1170.2,2911.4 1175.2,2929.4C1180.3,2947.4 1185.9,2966.4 1190.4,2983.5C1194.4,2998.7 1197.3,3013.5 1201.2,3026.8C1204.6,3038.4 1207.7,3048.6 1212,3059C1216.3,3069.4 1222,3078.5 1227,3089.2C1232.5,3101 1237.5,3114.5 1243.3,3127.1C1249.2,3139.8 1255.8,3152.7 1262.2,3165C1268.4,3177 1274.5,3189.3 1281.1,3200.1C1287.2,3209.9 1293.8,3218.2 1300.1,3227.2C1306.4,3236.2 1312.2,3245.6 1319,3254.2C1325.7,3262.7 1332.7,3270.7 1340.6,3278.6C1348.9,3287 1358.6,3295.2 1367.7,3302.9C1376.6,3310.4 1385.5,3318.1 1394.7,3324.5C1403.5,3330.6 1412.7,3335.8 1421.8,3340.8C1430.7,3345.7 1439.7,3350.2 1448.8,3354.3C1457.7,3358.3 1466.8,3362.1 1475.9,3365.1C1484.8,3368 1494.4,3370.3 1502.9,3371.9C1510.5,3373.3 1517.5,3374.2 1524.5,3374.6C1531,3375 1537.6,3376.2 1543.5,3374.6C1549.3,3373 1554.9,3369.4 1559.7,3365.1C1565,3360.3 1569.3,3353.3 1573.2,3346.2C1577.6,3338.2 1580.7,3329.1 1584,3319.1C1588,3307.1 1591.9,3289.1 1594.9,3278.6C1596.8,3271.8 1597.9,3268.3 1600,3262C1602.8,3253.6 1606.3,3242.3 1610.3,3232.8C1614.3,3223.3 1618.2,3213.3 1624.1,3205.2C1629.8,3197.3 1638,3184.9 1644.8,3184.5C1650.7,3184.2 1656.8,3192.3 1662.1,3198.3C1668.5,3205.5 1673,3217 1679.3,3225.9C1685.6,3234.8 1692.6,3246.9 1700,3251.7C1705.4,3255.2 1711.3,3256.5 1717.2,3256.2C1723.8,3255.8 1731.3,3252.2 1737.9,3248.3C1745.2,3244 1751.3,3236.6 1758.6,3231C1766.2,3225.1 1774.3,3217.5 1782.8,3213.8C1790.5,3210.4 1798.6,3208.5 1806.9,3208.6C1815.8,3208.7 1826.1,3212.4 1834.5,3215.5C1842.1,3218.3 1848.7,3221.2 1855.2,3225.9C1862.6,3231.2 1868.7,3239.4 1875.9,3246.6C1883.6,3254.3 1892.5,3262.3 1900,3270.7C1907.4,3279 1913.3,3288.3 1920.7,3296.6C1928.2,3305 1937,3313.2 1944.8,3320.7C1951.9,3327.5 1958.4,3334.1 1965.5,3339.7C1972.2,3344.9 1978.6,3349.5 1986.2,3353.4C1994.5,3357.7 2004.1,3360.3 2013.8,3363.8C2024.6,3367.7 2035.2,3372.6 2048.3,3375.9C2064.9,3380.1 2086.8,3382 2106,3385" stroke="#000000" stroke-width="6.8"/>
<path d="M260,3366C262.7,3366 263.8,3365.9 268,3366C283.8,3366.6 348.4,3371.6 380,3374C403.1,3375.7 422,3378 440,3378.7C454.7,3379.3 465.9,3379.1 480,3378.7C495.7,3378.3 515.4,3376.8 530,3376C541.3,3375.4 547.8,3375.8 560,3374.5C579.5,3372.4 617.5,3366.3 635.7,3362.3C646.2,3360 652.6,3358.2 660.1,3355.5C666.9,3353.1 673.1,3351.7 679,3347.4C685.9,3342.4 692.6,3333.9 697.9,3325.8C703.4,3317.5 707.1,3309.2 711,3298C716.4,3282.3 720.4,3257.5 724.3,3239.5C727.6,3224.2 730.2,3211.1 733,3197C735.8,3183 738,3171.4 741.2,3155C745.8,3131.7 753,3098.7 758.1,3070.5C763.2,3042.4 767.1,3014.1 771.6,2985.9C776.1,2957.7 781,2930.9 785.1,2901.4C789.6,2869.2 793.1,2832.8 797,2800C800.7,2769.1 804.1,2735.6 808,2710C810.9,2690.9 814.2,2677.5 817,2660C820.1,2640.9 822.2,2619.2 825.8,2600C829.2,2581.9 833.6,2564 837.9,2547.7C841.7,2533.2 845.3,2520.1 850.1,2507.1C854.8,2494.5 859.5,2478.5 866.3,2470.6C871,2465.1 877.2,2460.4 882.6,2460.4C888,2460.4 893.9,2465.8 898.8,2470.6C904.9,2476.5 909.9,2486 915,2494.9C920.7,2504.8 925.8,2516.6 931.2,2527.4C936.6,2538.2 941.6,2550.4 947.5,2559.8C952.6,2567.9 957.8,2573.7 963.7,2581C970.2,2589.1 977.5,2599.8 985,2606C991.2,2611.1 997.5,2617 1004.3,2616.9C1012,2616.8 1020.9,2608.4 1028.6,2602C1037.3,2594.8 1045.1,2581.9 1052.9,2575C1058.8,2569.8 1065,2565.3 1070,2563C1073.3,2561.5 1075.8,2560.7 1079,2560.6C1082.5,2560.5 1086.5,2560.7 1090,2563C1095.1,2566.4 1099.2,2575.6 1103.9,2583.3C1109.6,2592.7 1115.5,2603.8 1121.2,2615.7C1127.8,2629.5 1134,2645.5 1140.6,2661.2C1147.7,2677.9 1155,2698.2 1162.3,2713.1C1168.1,2724.9 1174.4,2734.2 1180,2744C1185.1,2752.9 1189.9,2759.7 1194.7,2769.3C1200.6,2781.2 1206.8,2795.6 1212,2810.4C1217.8,2827 1221.9,2847.5 1227.2,2864.5C1232,2879.8 1237.6,2893.3 1242.3,2907.8C1247,2922.2 1250.9,2935.8 1255.3,2951.1C1260.2,2968.1 1264.7,2988.3 1270.4,3005.2C1275.6,3020.6 1281.2,3037.2 1287.7,3048.4C1292.4,3056.5 1298.1,3059.9 1302.8,3067.6C1308.7,3077.3 1313.5,3091.4 1319,3102.8C1324.3,3113.9 1329.7,3124.7 1335.2,3135.2C1340.5,3145.4 1346.1,3155.1 1351.5,3165C1356.9,3174.9 1362.4,3184.5 1367.7,3194.7C1373.2,3205.2 1378.5,3216.4 1383.9,3227.2C1389.3,3238 1394.7,3248.8 1400.1,3259.6C1405.5,3270.4 1410.5,3281.7 1416.4,3292.1C1422.2,3302.4 1428.8,3312.5 1435.3,3321.8C1441.4,3330.5 1447.5,3339.2 1454.2,3346.2C1460.2,3352.5 1466.9,3357.9 1473.2,3362.4C1478.6,3366.3 1483.9,3371.3 1489.4,3371.9C1494.7,3372.5 1500.4,3369.8 1505.6,3366.5C1512.2,3362.2 1518.2,3353.8 1524.5,3346.2C1531.7,3337.4 1539.3,3327.4 1546.2,3316.4C1553.9,3304.2 1561.4,3289.3 1567.8,3275.9C1573.9,3263.2 1578.8,3251.1 1584,3238C1589.5,3224.2 1593.9,3207.5 1600,3195C1605.2,3184.4 1610.6,3174.7 1617.2,3167.2C1622.9,3160.7 1629.7,3152.1 1636.2,3151.7C1642.4,3151.3 1649.6,3158.1 1655.2,3163.8C1662,3170.6 1666.8,3181.9 1672.4,3191.4C1678.3,3201.4 1683.4,3213.6 1689.7,3222.4C1695.1,3229.9 1701.5,3237.5 1706.9,3241.4C1710.5,3244 1713,3245.9 1717.2,3246C1723.5,3246.2 1733.8,3240.4 1741.4,3237C1748.7,3233.7 1755.3,3228.5 1762,3226C1767.9,3223.8 1773.4,3221.5 1779.3,3222C1786,3222.6 1793.2,3226.7 1800,3231C1808.1,3236.1 1816,3245.3 1824.1,3252C1832.1,3258.6 1839.9,3264.8 1848.3,3271C1857.1,3277.5 1866.8,3283.2 1875.9,3290C1885.2,3296.9 1894.7,3304.7 1903.4,3312.1C1911.7,3319.1 1919,3326.1 1927,3333C1935.1,3340 1942.8,3348.5 1951.7,3354C1960.3,3359.3 1969.4,3363 1979.3,3366C1990,3369.2 2002.3,3371.3 2013.8,3372C2025.3,3372.7 2036.3,3371 2048.3,3370C2061.6,3368.9 2079.4,3366.6 2090,3365.5C2096.6,3364.8 2100.7,3364.5 2106,3364" stroke="#ff0000" stroke-width="6.8"/>
<path d="M260,3364C262.7,3364 264.3,3364 268,3364C276.5,3364.1 294.2,3364 310,3365C330.4,3366.3 359.9,3369.7 380,3372C395.2,3373.7 405.9,3376.1 420,3377C435.7,3378.1 454.3,3377.9 470,3377.5C484.1,3377.1 495.9,3376 510,3375C525.7,3373.9 541.6,3372.6 560,3371C582.6,3369 616.9,3366.5 635.7,3363.7C647.1,3362 654.2,3361 662.8,3358.2C671.3,3355.5 679.8,3352.8 687.1,3347.4C695.2,3341.5 703.1,3331.7 708.7,3323.1C713.8,3315.2 716.1,3308.3 720,3298C725.7,3282.7 733.3,3257.6 737.8,3239.5C741.6,3224.3 743.2,3211.1 746,3197C748.8,3182.9 751.4,3171.4 754.7,3155C759.4,3131.7 766,3098.7 771.6,3070.5C777.2,3042.3 783.4,3012.6 788.5,2985.9C793.1,2962 797.2,2939.4 801.1,2917.7C804.6,2897.9 807.7,2879.9 810.9,2861C814.2,2842.1 816.6,2822.3 820.6,2804.2C824.3,2787.3 828.8,2770.9 833.6,2755.5C838.1,2741.3 841,2725 848.2,2714.9C854,2706.7 863,2696.9 870.1,2697C877.1,2697.1 884.7,2707.2 890.4,2714.9C897.3,2724.2 902.5,2738.6 906.6,2750.6C910.5,2762.1 911.9,2772.8 915,2785.3C918.7,2800.2 922.8,2816.9 927.2,2834C932.2,2853.2 938,2874.5 943.4,2894.8C948.8,2915.1 954.2,2935.4 959.6,2955.7C965,2976 971,2997.9 975.9,3016.5C980,3032.2 983,3046.2 987.1,3060C990.9,3072.8 995.1,3084.8 999.3,3096.5C1003.2,3107.5 1007.1,3118.7 1011.5,3128.2C1015.3,3136.3 1019.1,3143.2 1023.6,3150.1C1028,3156.9 1032.7,3164.1 1038.2,3169.5C1043.3,3174.5 1049.1,3179.3 1055.3,3181.7C1061.3,3184 1068.3,3184.5 1074.7,3184.1C1081.2,3183.7 1087.8,3181.3 1094.2,3179.3C1100.8,3177.3 1107.6,3175.2 1113.7,3172C1119.8,3168.7 1125.3,3164.7 1130.7,3159.8C1136.7,3154.3 1142.3,3147.3 1147.8,3140.3C1153.7,3132.8 1158.9,3124.3 1164.8,3116C1171,3107.3 1177.2,3096.4 1184.3,3089.2C1190.4,3083 1197.8,3075.6 1203.8,3074.6C1208.2,3073.8 1211.9,3076 1216.2,3078.4C1222.2,3081.7 1229.1,3088.6 1235.2,3094.7C1241.7,3101.2 1248.2,3108.1 1254.1,3116.3C1260.9,3125.7 1265.9,3139 1273,3148.7C1279.6,3157.8 1287.4,3165.3 1294.7,3173.1C1301.8,3180.6 1309.3,3186.9 1316.3,3194.7C1323.7,3203 1330.7,3212.8 1337.9,3221.8C1345.1,3230.8 1352.4,3239.8 1359.6,3248.8C1366.8,3257.8 1374,3266.9 1381.2,3275.9C1388.4,3284.9 1395.6,3293.9 1402.8,3302.9C1410,3311.9 1417.5,3321.2 1424.5,3330C1431,3338.3 1437.3,3346.8 1443.4,3354.3C1448.9,3361.1 1453.4,3368.4 1459.6,3373.2C1465.3,3377.6 1472.4,3382 1478.6,3382.7C1484.1,3383.3 1489.8,3381.5 1494.8,3378.6C1500.7,3375.2 1505.7,3368.8 1511,3362.4C1517.4,3354.8 1523.5,3345.1 1529.9,3335.4C1537,3324.5 1544.6,3312.5 1551.6,3300.2C1559,3287.3 1565.7,3274 1573.2,3259.6C1581.7,3243.2 1591.5,3220.6 1600,3207C1605.9,3197.6 1610.8,3190.6 1617.2,3184.5C1623,3179 1629.9,3171.4 1636.2,3171.4C1642.5,3171.4 1649.2,3178.7 1655.2,3184.5C1662.6,3191.6 1668.9,3203.1 1675.9,3212.1C1682.7,3220.9 1689,3231.7 1696.6,3237.9C1703,3243.1 1710,3247.8 1717.2,3248.3C1724.8,3248.8 1733.8,3243.2 1741.4,3239.7C1748.7,3236.3 1755.3,3230.2 1762.1,3227.6C1767.9,3225.4 1773.4,3223.5 1779.3,3224.1C1786,3224.8 1793.2,3228.6 1800,3232.8C1808.1,3237.8 1816,3246.8 1824.1,3253.4C1832.1,3259.9 1839.9,3266.2 1848.3,3272.4C1857.1,3278.9 1866.8,3284.6 1875.9,3291.4C1885.2,3298.4 1894.6,3306.2 1903.4,3313.8C1911.8,3321.1 1919.5,3329 1927.6,3336.2C1935.6,3343.3 1943,3351.4 1951.7,3356.9C1960.2,3362.3 1969.4,3365.9 1979.3,3369C1990,3372.4 2002.2,3374.8 2013.8,3375.9C2025.2,3377 2035.3,3375.7 2048.3,3375.9C2065.1,3376.1 2086.8,3377 2106,3377.6" stroke="#008080" stroke-width="6.8"/>
<path d="M285.2,3375.8L288.4,3375.8M319.3,3375.8L322.5,3375.8M354.6,3375.8L357.8,3375.8M388.4,3375.8L391.6,3375.8M422.2,3375.9L425.3,3375.9M455.9,3376L459.1,3376M489.7,3376L492.9,3376M525,3376L528.2,3376M559,3376.5L562.2,3376.5M592.4,3377L595.6,3377M627.4,3374.7L630.6,3374.3M663.5,3368.4L666.5,3367.6M695.2,3357.7L698,3356.3M723.8,3339.1L726.2,3336.9M743.1,3313.3L744.9,3310.7M762.1,3286.3L763.9,3283.7M784.1,3256.3L785.9,3253.7M804.1,3227.3L805.9,3224.7M821.1,3201.3L822.9,3198.7M839.9,3171.5L841.9,3168.9M863.9,3146.1L866.1,3143.9M887.1,3122.4L889.3,3120M908.7,3094.3L910.5,3091.7M927.6,3066.6L929.2,3063.8M942.7,3037L944.1,3034.2M957,3005.9L958.2,3002.9M970,2974.2L971.2,2971.2M982.6,2943L983.8,2940M994.7,2909.7L995.9,2906.7M1006.5,2878.1L1007.7,2875.1M1018.7,2845.6L1019.9,2842.6M1030.8,2814.4L1032,2811.4M1046,2782.5L1047.8,2779.9M1069.6,2753.2L1072.8,2752.4M1097.7,2767.9L1099.9,2770.3M1112,2796.8L1113.2,2799.8M1123.4,2828.4L1124.4,2831.4M1132.9,2860.9L1133.7,2863.9M1143,2894.5L1143.8,2897.5M1151.9,2927.8L1152.7,2930.8M1162,2961.5L1163,2964.5M1171.4,2993.9L1172.2,2996.9M1181,3027.2L1182,3030.2M1191.6,3059.6L1192.6,3062.6M1203.6,3092L1204.8,3095M1216.3,3123.5L1217.5,3126.5M1231.2,3155.5L1232.6,3158.3M1247.9,3185.2L1249.5,3188M1267.3,3215.1L1269.1,3217.7M1289.5,3242.2L1291.7,3244.6M1313.7,3268L1316.1,3270.2M1338.5,3289.7L1341.1,3291.7M1365.6,3309.3L1368.2,3311.1M1394.1,3327.9L1396.9,3329.3M1425.7,3338.9L1428.7,3339.9M1458.5,3351.4L1461.5,3352.6M1488.5,3363.5L1491.5,3364.5M1521.1,3372.4L1524.3,3373M1554.9,3374.1L1558.1,3373.9M1589.3,3366.9L1592.3,3366.1M1620.8,3356.5L1624,3355.9M1656,3355L1659.2,3355.4M1688.7,3364.2L1691.9,3364.8M1722.5,3368.9L1725.7,3369.1M1757,3369L1760.2,3369M1790.8,3368.9L1794,3369.1M1825,3371.6L1828.2,3371.8M1859.4,3372.4L1862.6,3372.4M1893.9,3371.7L1897.1,3371.7M1927.7,3371.7L1930.9,3371.7M1962.2,3373.3L1965.4,3373.5M1996.7,3374.1L1999.9,3374.1M2038.4,3372.2L2041.6,3371.8M2067.5,3366.8L2070.7,3366.1M2096.4,3360.3L2099.6,3359.7" stroke="#ff8000" stroke-width="6.2" stroke-linecap="round" fill="none"/>
<path d="M260,3373.8C262.7,3373.8 263.7,3373.8 268,3373.8C287.1,3373.8 372.9,3373.9 423,3374C470.1,3374.1 517.9,3374.7 560,3374.5C596,3374.3 639,3375.2 660.1,3373.1C670,3372.1 674.1,3371.5 681.7,3369.1C691,3366.2 702.4,3361 711.5,3355.5C720.4,3350.1 728.1,3344.1 735.8,3336.6C744.4,3328.2 752.4,3317.9 760.1,3306.9C768.7,3294.7 776.3,3280.5 784.5,3266.3C793.4,3250.9 802.6,3233 811.5,3217.6C819.7,3203.4 827.6,3189 835.9,3177C843.1,3166.5 850,3155.6 858,3149C864.4,3143.6 871,3140.1 878.5,3138.2C886.4,3136.2 896,3136.4 904.3,3137.9C912.7,3139.5 920.6,3144.3 928.7,3147.6C936.8,3150.8 944.8,3155.2 953,3157.4C961,3159.6 969.3,3161.2 977.4,3161C985.5,3160.8 993.7,3158.7 1001.7,3156.2C1010,3153.6 1017.9,3148.7 1026.1,3145.2C1034.2,3141.8 1042.2,3137.9 1050.4,3135.5C1058.4,3133.1 1066.6,3130.8 1074.7,3130.6C1082.8,3130.4 1091.1,3132 1099.1,3134.2C1107.3,3136.4 1115.4,3140.4 1123.4,3144C1131.6,3147.7 1139.5,3153.1 1147.8,3156.2C1155.7,3159.1 1163.7,3160.5 1172.1,3162.2C1181,3164 1191.4,3164.5 1200,3166.5C1207.7,3168.3 1214.5,3169.4 1221.6,3173.1C1229.9,3177.4 1237.1,3186.6 1246,3192C1255.1,3197.5 1265.6,3200.9 1275.7,3205.5C1286.3,3210.3 1297.6,3215.8 1308.2,3220.4C1318.3,3224.8 1328.9,3227 1337.9,3232.6C1347,3238.2 1354.1,3246.5 1362.3,3254.2C1371.2,3262.6 1380.4,3272 1389.3,3281.3C1398.4,3290.9 1407.3,3301.4 1416.4,3311C1425.3,3320.3 1434,3330.2 1443.4,3338.1C1452.1,3345.4 1461.1,3352.5 1470.5,3357C1479.2,3361.2 1488.5,3365.1 1497.5,3365.1C1506.5,3365.1 1515.9,3361.5 1524.5,3357C1534,3352 1542.9,3343.6 1551.6,3335.4C1561,3326.6 1570.1,3314.8 1578.6,3305.6C1586.1,3297.5 1591.9,3287.8 1600,3283C1607.3,3278.7 1616,3277.2 1624.1,3276.9C1632.1,3276.6 1640.1,3277.7 1648.3,3281C1658.4,3285 1668.5,3297 1679.3,3301.7C1689.3,3306.1 1700.2,3308.5 1710.3,3309.3C1719.7,3310 1728.5,3308.2 1737.9,3306.9C1748,3305.5 1759,3300.9 1769,3301C1778.5,3301.1 1787.6,3303.7 1796.6,3306.9C1806,3310.2 1815.2,3316.3 1824.1,3320.7C1832.4,3324.9 1839.8,3329.4 1848.3,3332.8C1857.1,3336.3 1866.2,3338.4 1875.9,3341.4C1886.7,3344.7 1898.8,3348.5 1910.3,3351.7C1921.8,3354.8 1933.2,3358 1944.8,3360.3C1956.2,3362.6 1966.6,3364.1 1979.3,3365.5C1994.8,3367.2 2012.2,3367.9 2031,3369C2053.7,3370.3 2081,3371.3 2106,3372.4" stroke="#0000ff" stroke-width="6.8"/>
<path d="M260,3371C262.7,3371 264.1,3371 268,3371C278.9,3371.1 312.3,3371.7 330,3372C343.3,3372.2 348.6,3372.4 365,3372.5C403.7,3372.8 509,3372.9 560,3373C592.9,3373.1 618.8,3374.9 641.1,3373.1C657,3371.8 669.7,3369.8 681.7,3366.4C691.8,3363.6 700.5,3360.1 708.7,3355.5C716.6,3351 723.7,3346.1 730.4,3339.3C738.3,3331.3 745.1,3320.3 752,3309.6C759.6,3297.9 766.6,3284.6 773.7,3271.7C781,3258.5 788.1,3244.6 795.3,3231.1C802.5,3217.6 809.8,3203.3 816.9,3190.6C823.3,3179.2 829.5,3168.2 835.8,3158.4C841.4,3149.8 845.9,3141.2 852.7,3134.7C859.4,3128.3 868.2,3122.9 876.4,3119.5C884,3116.4 892.3,3114.3 900,3114.4C907.3,3114.5 914.4,3116.7 921.4,3119.6C928.9,3122.7 936.2,3128.8 943.3,3133C950,3136.9 955.9,3141.2 962.8,3144C969.7,3146.9 977.4,3150.1 984.7,3150.1C992,3150.1 999.7,3146.9 1006.6,3144C1013.5,3141.2 1019.4,3137.4 1026.1,3133C1033.9,3127.9 1042.2,3120.3 1050.4,3114.8C1058.4,3109.4 1066.3,3103.2 1074.7,3100.2C1082.6,3097.4 1091,3096.9 1099.1,3096.5C1107.2,3096.1 1115.7,3097.5 1123.4,3097.7C1130.3,3097.9 1136.1,3098.8 1142.9,3097.7C1150.7,3096.4 1159.4,3093.2 1167.2,3089.2C1175.6,3084.9 1183.9,3077.3 1191.6,3072.2C1198.4,3067.7 1204.7,3062.8 1211.1,3060C1216.5,3057.6 1221,3055.2 1227,3055.4C1234.9,3055.6 1245.1,3061.5 1254.1,3064.9C1263.1,3068.3 1272.5,3070.7 1281.1,3075.7C1290.6,3081.2 1299.6,3090.8 1308.2,3097.4C1315.8,3103.3 1323,3107 1329.8,3113.6C1337.5,3121.1 1345.2,3130.8 1351.5,3140.6C1357.9,3150.6 1362.3,3162.3 1367.7,3173.1C1373.1,3183.9 1378.5,3194.7 1383.9,3205.5C1389.3,3216.3 1394.5,3226.8 1400.1,3238C1406.2,3250.2 1412.6,3263.9 1419.1,3275.9C1425.2,3287.2 1431.2,3297.9 1438,3308.3C1444.7,3318.6 1451.9,3329.7 1459.6,3338.1C1466.4,3345.6 1474.2,3352.9 1481.3,3357C1486.8,3360.1 1492,3362.9 1497.5,3362.4C1503.7,3361.8 1510.5,3356.7 1516.4,3351.6C1523.4,3345.6 1529.1,3336.3 1535.4,3327.3C1542.7,3316.8 1549.9,3304.1 1557,3292.1C1564.3,3279.8 1571.3,3266.4 1578.6,3254.2C1585.6,3242.4 1592.4,3227.9 1600,3220C1605.5,3214.4 1610.9,3211.1 1617.2,3208.6C1623.5,3206.1 1631.4,3204.8 1637.9,3205.2C1644,3205.6 1649.5,3207.1 1655.2,3210.3C1662.3,3214.3 1668.6,3224.3 1675.9,3229.3C1682.5,3233.9 1689.5,3237.7 1696.6,3239.7C1703.3,3241.6 1710.2,3242.3 1717.2,3241.4C1725,3240.4 1733.4,3236.2 1741.4,3232.8C1749.6,3229.3 1757.6,3222.6 1765.5,3220.7C1772.5,3219 1779.3,3218.7 1786.2,3220.7C1794.3,3223.1 1802.6,3230 1810.3,3236.2C1818.7,3243 1826.6,3251.8 1834.5,3260.3C1842.7,3269.1 1849.8,3280 1858.6,3287.9C1867.1,3295.4 1876.9,3300.8 1886.2,3306.9C1895.3,3312.9 1904.1,3319.2 1913.8,3324.1C1923.6,3329 1934.1,3332.5 1944.8,3336.2C1955.9,3340 1967.7,3343.7 1979.3,3346.6C1990.7,3349.4 2002.3,3351.1 2013.8,3353.4C2025.3,3355.7 2035.3,3358 2048.3,3360.3C2065,3363.2 2086.8,3366.1 2106,3369" stroke="#00ff00" stroke-width="6.8"/>
<path d="M260,3367C262.7,3367 263.7,3367 268,3367C287.1,3367 384,3366.7 423,3366.5C446.7,3366.4 459.4,3366 480,3366C504.4,3366 535.9,3366.4 560,3366.5C579.8,3366.5 595.1,3366.8 614.1,3366.4C635.4,3366 662.1,3366.1 681.7,3363.7C697,3361.9 710.4,3359.6 722.3,3355.5C732.5,3352 740.1,3345.6 749.3,3342C758.2,3338.5 767.4,3337 776.4,3333.9C785.5,3330.7 794.4,3326.7 803.4,3323.1C812.4,3319.5 821.4,3315.5 830.5,3312.3C839.4,3309.2 848.9,3305.7 857.5,3304.2C865,3302.8 871.2,3303.3 879.1,3302.8C888.8,3302.2 902.6,3300 911.6,3301C918.3,3301.8 922.5,3303.9 928.7,3305.9C936.1,3308.3 943.9,3313.2 953,3314.4C963.8,3315.9 978.6,3313.2 989.5,3312C998.5,3311 1004.9,3309.6 1013.9,3308.3C1024.8,3306.7 1039.5,3303.3 1050.4,3303.4C1059.3,3303.5 1067.7,3305.4 1074.7,3307.1C1080.2,3308.4 1083.3,3310.8 1089.3,3312C1098.2,3313.8 1113.7,3312.3 1123.4,3314.4C1130.9,3316 1135.6,3320.1 1142.9,3321.7C1151.5,3323.6 1162.5,3323.4 1172.1,3324.1C1181.5,3324.8 1190.8,3325.9 1200,3326C1209.1,3326.1 1218.8,3324.1 1227,3324.5C1233.9,3324.8 1238.9,3327.9 1246,3327.3C1255.5,3326.5 1268.6,3317.4 1278.4,3316.4C1286.3,3315.6 1292.3,3319.1 1300.1,3319.1C1309.2,3319.1 1320.7,3314.9 1329.8,3315.1C1337.6,3315.3 1344.2,3316.7 1351.5,3319.1C1359.6,3321.8 1368,3329.5 1375.8,3331.3C1382.3,3332.8 1388.3,3330 1394.7,3331.3C1401.8,3332.8 1409.1,3338.3 1416.4,3340.8C1423.5,3343.2 1430.5,3344.9 1438,3346.2C1445.8,3347.6 1454.5,3347.1 1462.3,3348.9C1469.9,3350.7 1477.6,3354.8 1484,3357C1489,3358.7 1492.2,3360.2 1497.5,3361.1C1504.9,3362.4 1515.6,3363.5 1524.5,3362.4C1533.6,3361.3 1542.6,3357 1551.6,3354.3C1560.6,3351.6 1570.2,3349.1 1578.6,3346.2C1586.2,3343.6 1591.9,3339.1 1600,3338C1610,3336.7 1624,3340.1 1634.5,3341.4C1643.3,3342.4 1650.6,3343.1 1658.6,3344.8C1666.7,3346.5 1675,3351.6 1682.8,3351.7C1689.9,3351.8 1695.6,3347.6 1703.4,3346.6C1713.4,3345.3 1726.4,3346.2 1737.9,3345.9C1749.4,3345.6 1760.9,3344.1 1772.4,3344.8C1783.9,3345.5 1795.4,3348.3 1806.9,3350C1818.4,3351.7 1829.9,3353.6 1841.4,3355.2C1852.9,3356.8 1863.2,3358.4 1875.9,3359.7C1891.4,3361.3 1910.4,3362.4 1927.6,3363.8C1944.8,3365.2 1958.3,3366.7 1979.3,3367.9C2012.2,3369.8 2063.8,3370.9 2106,3372.4" stroke="#8000ff" stroke-width="6.8"/>
<path d="M260,3369.7C262.7,3369.7 263.7,3369.7 268,3369.7C287.1,3369.7 372.9,3369.9 423,3370C470.1,3370.1 520.3,3370.5 560,3370.5C590.6,3370.5 616.8,3371.9 641.1,3370.4C661,3369.2 680.5,3367.5 695.2,3363.7C706,3360.9 714.2,3357.8 722.3,3352.8C730.4,3347.8 737.2,3340.9 743.9,3333.9C750.8,3326.6 756.6,3318 762.8,3309.6C769.2,3300.9 775.3,3292 781.8,3282.5C788.8,3272.2 795.5,3260.7 803.4,3250.1C811.7,3239 821.2,3227.7 830.5,3217.6C839.3,3208 847.9,3197.3 857.5,3190.6C866,3184.7 876,3180.3 884.5,3178.4C891.4,3176.8 897.4,3177.3 904.3,3178.1C912.1,3179 920.6,3181.7 928.7,3184.1C936.9,3186.5 944.3,3190 953,3192.7C962.8,3195.7 974.5,3200.8 984.7,3201.2C994,3201.6 1003.1,3199.5 1011.5,3196.3C1020.1,3193 1027.8,3186.9 1035.8,3181.7C1044,3176.4 1051.7,3169.2 1060.1,3164.7C1068,3160.4 1076,3156.9 1084.5,3154.9C1093.1,3152.8 1102.6,3153.3 1111.3,3152.5C1119.6,3151.7 1127.6,3152.1 1135.6,3150.1C1143.8,3148.1 1151.9,3144.3 1159.9,3140.3C1168.2,3136.2 1176.1,3130.4 1184.3,3125.7C1192.4,3121.1 1201,3114.8 1208.6,3112.3C1214.6,3110.3 1220,3109.7 1225.7,3109.9C1231.5,3110.1 1237.1,3111.3 1243.3,3113.6C1251,3116.5 1259.6,3122.2 1267.6,3127.1C1275.8,3132.1 1284.1,3138.2 1292,3143.3C1299.4,3148.1 1306.6,3151.7 1313.6,3156.9C1321,3162.4 1328.4,3169.1 1335.2,3175.8C1342,3182.6 1348.4,3189.8 1354.2,3197.4C1360.1,3205.1 1365.1,3213.4 1370.4,3221.8C1375.9,3230.5 1381,3239.4 1386.6,3248.8C1392.7,3259.1 1399.1,3270.8 1405.5,3281.3C1411.7,3291.5 1418,3301.7 1424.5,3311C1430.6,3319.7 1436.9,3328 1443.4,3335.4C1449.5,3342.3 1455.7,3349 1462.3,3354.3C1468.4,3359.2 1474.9,3364.4 1481.3,3366.5C1486.7,3368.3 1492.1,3369 1497.5,3367.8C1503.8,3366.4 1510.2,3361.7 1516.4,3357C1523.8,3351.4 1531.1,3343.2 1538.1,3335.4C1545.6,3327.1 1552.7,3317.9 1559.7,3308.3C1567.1,3298.1 1574.3,3286 1581.3,3275.9C1587.7,3266.7 1593.1,3255.9 1600,3250C1605.3,3245.5 1611.4,3243.7 1617.2,3241.4C1622.9,3239.2 1628.5,3236.3 1634.5,3236.2C1641.1,3236 1648.2,3238.6 1655.2,3241.4C1663.1,3244.6 1671.1,3251.5 1679.3,3255.2C1687.2,3258.7 1695.6,3262 1703.4,3263.1C1710.5,3264.1 1717,3263.5 1724.1,3262.1C1732,3260.5 1740.2,3255.7 1748.3,3253.4C1756.3,3251.1 1764.7,3248.2 1772.4,3248.3C1779.6,3248.4 1786,3250.4 1793.1,3253.4C1801.9,3257.1 1811.8,3264.1 1820.7,3270.7C1830.2,3277.7 1838.9,3287.5 1848.3,3294.8C1857.3,3301.8 1866.5,3308.2 1875.9,3313.8C1884.9,3319.1 1894.1,3323.6 1903.4,3327.6C1912.5,3331.6 1921.5,3334.8 1931,3337.9C1941,3341.2 1951.4,3343.8 1962.1,3346.6C1973.3,3349.6 1983.9,3352.4 1996.6,3355.2C2012.1,3358.7 2030.5,3362.7 2048.3,3365.5C2066.9,3368.5 2086.8,3370.1 2106,3372.4" stroke="#ff00ff" stroke-width="6.8"/>
</g>
<rect x="268" y="1920.5" width="1831" height="1479.9" fill="none" stroke="#000" stroke-width="6.6"/>
<line x1="572.7" y1="3400.4" x2="572.7" y2="3429.4" stroke="#000" stroke-width="6.6"/>
<line x1="1183.3" y1="3400.4" x2="1183.3" y2="3429.4" stroke="#000" stroke-width="6.6"/>
<line x1="1794" y1="3400.4" x2="1794" y2="3429.4" stroke="#000" stroke-width="6.6"/>
<line x1="268" y1="3400.4" x2="268" y2="3415.4" stroke="#000" stroke-width="6.6"/>
<line x1="878" y1="3400.4" x2="878" y2="3415.4" stroke="#000" stroke-width="6.6"/>
<line x1="1488.8" y1="3400.4" x2="1488.8" y2="3415.4" stroke="#000" stroke-width="6.6"/>
<line x1="2099" y1="3400.4" x2="2099" y2="3415.4" stroke="#000" stroke-width="6.6"/>
<line x1="706.6" y1="2006" x2="793.5" y2="2058.4" stroke="#000" stroke-width="2.4"/>
<polygon points="826,2078 786.7,2065.7 796.8,2049" fill="#000"/>
<line x1="708.1" y1="2325" x2="853.9" y2="2431.1" stroke="#000" stroke-width="2.4"/>
<polygon points="884.6,2453.5 846.5,2437.9 858,2422" fill="#000"/>
<line x1="657.4" y1="2574.5" x2="833" y2="2671.6" stroke="#000" stroke-width="2.4"/>
<polygon points="866.3,2690 826.6,2679.2 836,2662.1" fill="#000"/>
<line x1="1243.5" y1="2656.4" x2="1131.2" y2="2731.7" stroke="#000" stroke-width="2.4"/>
<polygon points="1099.6,2752.8 1127.4,2722.4 1138.3,2738.7" fill="#000"/>
<line x1="1289.2" y1="2883.6" x2="1114.4" y2="3101" stroke="#000" stroke-width="2.4"/>
<polygon points="1090.6,3130.6 1108,3093.3 1123.3,3105.6" fill="#000"/>
<line x1="660.7" y1="2868.6" x2="872.6" y2="3081.4" stroke="#000" stroke-width="2.4"/>
<polygon points="899.4,3108.3 864.2,3086.9 878.1,3073" fill="#000"/>
<line x1="652.6" y1="3041.4" x2="855.3" y2="3156.3" stroke="#000" stroke-width="2.4"/>
<polygon points="888.4,3175 848.8,3163.8 858.4,3146.8" fill="#000"/>
<line x1="598.5" y1="3249.5" x2="805.2" y2="3287.6" stroke="#000" stroke-width="2.4"/>
<polygon points="842.6,3294.5 801.5,3296.9 805,3277.6" fill="#000"/>
<text x="42.6" y="1989.3" font-size="77.6" font-weight="bold" fill="#000">(b)</text>
<text x="857.4" y="1985.8" font-size="41.5" fill="#000">COOH:1700 cm</text>
<text x="1154" y="1979.1" font-size="41.5">−</text>
<text x="1177.7" y="1974.3" font-size="41.5" fill="#000">1</text>
<text x="1072" y="2112.7" font-size="41.6" fill="#000">H</text>
<text x="1102.2" y="2123.2" font-size="29.5" fill="#000">2</text>
<text x="1117" y="2112.7" font-size="42.2" fill="#000">O: 1637 cm</text>
<text x="1335.5" y="2105.9" font-size="41.6">−</text>
<text x="1360.1" y="2100.5" font-size="41.6" fill="#000">1</text>
<text x="1195" y="2202.6" font-size="42" fill="#000">COOM: 1589 cm</text>
<text x="1511" y="2196.1" font-size="42">−</text>
<text x="1534.7" y="2191.1" font-size="42" fill="#000">1</text>
<text x="400.2" y="1982.9" font-size="55.4" fill="#000">After mixing</text>
<rect x="1353.5" y="1940" width="735.5" height="107" fill="none" stroke="#000" stroke-width="2.2"/>
<text x="1362" y="2020.2" font-size="76.8" fill="#000">GIC + 3 wt% Ca-clay</text>
<text x="553.8" y="2327.1" font-size="56" fill="#ff0000">5 min</text>
<text x="288.1" y="2573.3" font-size="55.2" fill="#008080">5 min after</text>
<text x="290.4" y="2667" font-size="54.9" fill="#008080">water subtraction</text>
<text x="1263.9" y="2647.5" font-size="55.2" fill="#ff8000">Water</text>
<text x="1307.4" y="2878.7" font-size="55.7" fill="#0000ff">15 min</text>
<text x="541.6" y="2877.1" font-size="55.4" fill="#00ff00">24 h</text>
<text x="462.6" y="3036" font-size="54.3" fill="#ff00ff">1 week</text>
<text x="507.9" y="3253" font-size="54.1" fill="#8000ff">1 h</text>
<text x="504.2" y="3499" font-size="62.6" fill="#000">1800</text>
<text x="1115.8" y="3499" font-size="61.3" fill="#000">1600</text>
<text x="1725.8" y="3499" font-size="62.1" fill="#000">1400</text>
<text x="808.2" y="3636.4" font-size="76.2" fill="#000">Wavenumber (cm</text>
<text x="1408.7" y="3611.9" font-size="54">−</text>
<text x="1439.6" y="3605.3" font-size="54" fill="#000">1</text>
<text x="1473.7" y="3636.4" font-size="76.2" fill="#000">)</text>
<text transform="rotate(-90)" x="-2967.7" y="198.8" font-size="76.2">Absorbance (a.u.)</text>
</svg>
</body></html>
